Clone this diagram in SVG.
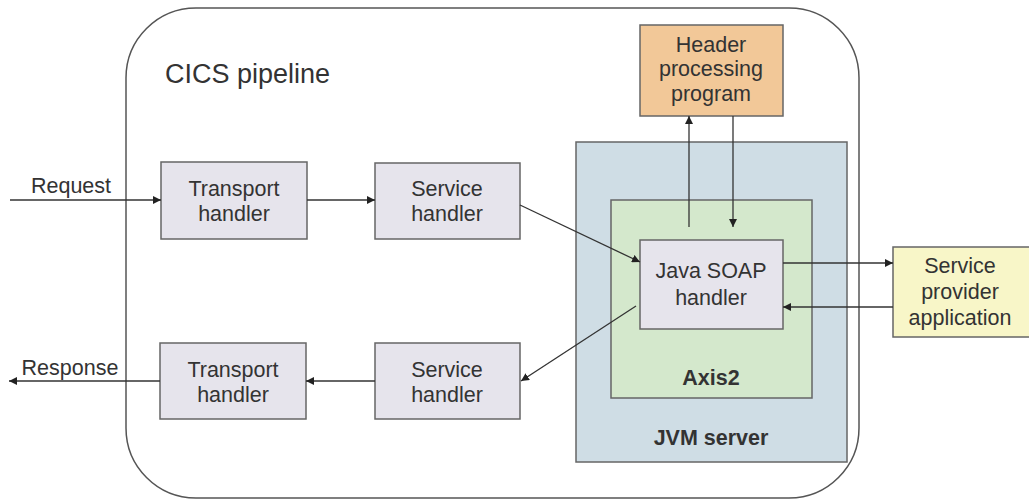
<svg xmlns="http://www.w3.org/2000/svg" width="1029" height="500" viewBox="0 0 1029 500">
<style>
text{font-family:"Liberation Sans",Arial,sans-serif;fill:#333;font-size:21.5px;text-anchor:middle}
.box{stroke:#666;stroke-width:1.5}
.n{fill:#e6e4ec}
.c{stroke:#333;stroke-width:1.3;fill:none;marker-end:url(#ah)}
.b{font-weight:bold}
</style>
<defs>
<marker id="ah" viewBox="0 0 10 10" refX="10" refY="5" markerWidth="8" markerHeight="8" markerUnits="userSpaceOnUse" orient="auto">
<path d="M0,0 L10,5 L0,10 z" fill="#222"/>
</marker>
</defs>
<g id="pipeline">
<rect x="126" y="8" width="733" height="490" rx="70" ry="70" fill="#fff" stroke="#555" stroke-width="1.5"/>
<text x="165" y="83" style="text-anchor:start;font-size:27px">CICS pipeline</text>
</g>
<g id="jvm">
<rect class="box" x="576" y="142" width="271" height="320" fill="#cfdde5"/>
<text class="b" x="711" y="445">JVM server</text>
</g>
<g id="axis2">
<rect class="box" x="611" y="200" width="201" height="198" fill="#d4e8cc"/>
<text class="b" x="711" y="385">Axis2</text>
</g>
<g id="transport1">
<rect class="box n" x="161" y="162" width="146" height="77"/>
<text x="234" y="196">Transport</text><text x="234" y="221">handler</text>
</g>
<g id="service1">
<rect class="box n" x="375" y="163" width="145" height="76"/>
<text x="447" y="196">Service</text><text x="447" y="221">handler</text>
</g>
<g id="transport2">
<rect class="box n" x="160" y="343" width="146" height="76"/>
<text x="233" y="377">Transport</text><text x="233" y="402">handler</text>
</g>
<g id="service2">
<rect class="box n" x="375" y="343" width="145" height="76"/>
<text x="447" y="377">Service</text><text x="447" y="402">handler</text>
</g>
<g id="javasoap">
<rect class="box n" x="640" y="240" width="143" height="89"/>
<text x="711" y="278">Java SOAP</text><text x="711" y="305">handler</text>
</g>
<g id="header">
<rect class="box" x="640" y="25" width="143" height="91" fill="#f2c898"/>
<text x="711" y="52">Header</text><text x="711" y="76">processing</text><text x="711" y="101">program</text>
</g>
<g id="provider">
<rect class="box" x="893" y="247" width="140" height="90" fill="#f8f6c8"/>
<text x="960" y="273">Service</text><text x="960" y="299">provider</text><text x="960" y="325">application</text>
</g>
<g id="connectors">
<line class="c" x1="10" y1="200" x2="161" y2="200"/>
<text x="71" y="193">Request</text>
<line class="c" x1="307" y1="200" x2="375" y2="200"/>
<line class="c" x1="520" y1="205" x2="640" y2="262"/>
<line class="c" x1="689" y1="227" x2="689" y2="116"/>
<line class="c" x1="733" y1="116" x2="733" y2="227"/>
<line class="c" x1="783" y1="263" x2="893" y2="263"/>
<line class="c" x1="893" y1="307" x2="783" y2="307"/>
<line class="c" x1="636" y1="306" x2="521" y2="381"/>
<line class="c" x1="375" y1="381" x2="306" y2="381"/>
<line class="c" x1="160" y1="381" x2="9" y2="381"/>
<text x="70" y="375">Response</text>
</g>
</svg>
